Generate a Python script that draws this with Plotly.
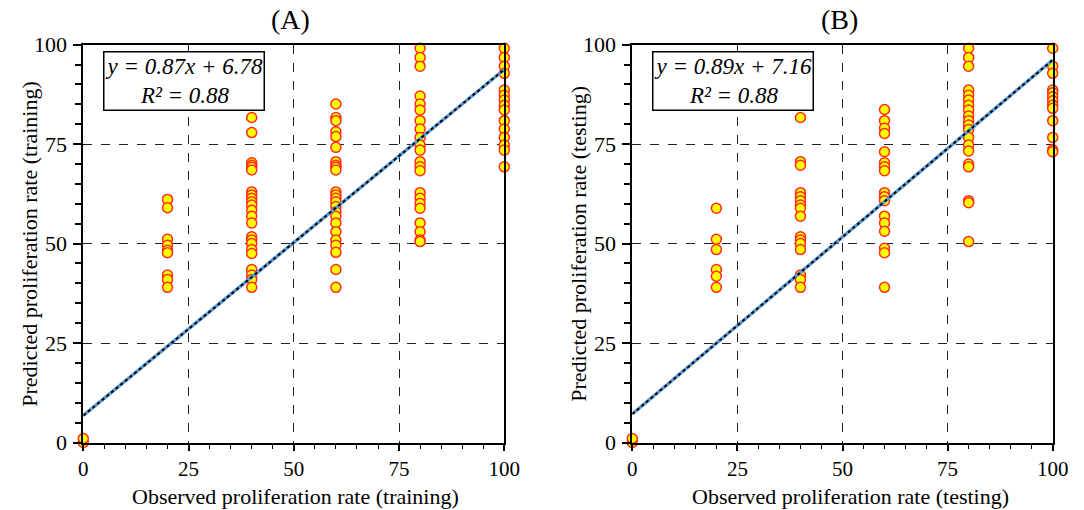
import plotly.graph_objects as go

# ---------------- data ----------------
obs_levels = [0, 20, 40, 60, 80, 100]

pred_A_0 = [0, 1]
pred_A_20 = [61.1, 59.0, 51.1, 49.6, 48.3, 47.7, 42.1, 41.0, 39.0]
pred_A_40 = [81.7, 77.9, 70.3, 69.7, 69.2, 68.5, 63.0, 62.2, 61.4, 60.5, 59.7, 58.4,
             56.9, 55.2, 51.7, 50.9, 50.0, 48.5, 47.5, 43.5, 42.1, 41.0, 39.0]
pred_A_60 = [85.1, 81.7, 80.9, 78.1, 76.9, 74.2, 70.6, 69.7, 69.2, 68.5, 63.0, 62.2,
             61.4, 60.5, 59.3, 58.0, 56.9, 55.2, 53.0, 50.9, 49.6, 47.8, 43.5, 39.0]
pred_A_80 = [99.1, 96.8, 94.6, 87.1, 85.1, 83.6, 80.9, 78.8, 76.7, 74.8, 73.5, 70.6,
             69.3, 68.3, 62.8, 61.4, 60.1, 58.9, 55.2, 53.0, 50.9, 50.5]
pred_A_100 = [99.1, 96.8, 94.6, 92.8, 88.6, 87.3, 86.1, 84.8, 83.6, 80.9, 78.8, 76.7,
              74.8, 73.5, 69.3]

pred_B_0 = [0, 1]
pred_B_20 = [58.9, 51.1, 48.5, 43.5, 41.8, 39.0]
pred_B_40 = [81.7, 70.6, 69.7, 62.8, 61.8, 60.8, 59.7, 58.9, 56.9, 51.7, 50.9, 50.0,
             48.5, 42.1, 41.0, 39.0]
pred_B_60 = [83.7, 80.9, 79.0, 77.7, 73.1, 70.3, 69.3, 68.3, 62.8, 61.8, 60.8, 56.9,
             55.2, 53.1, 48.8, 47.7, 39.0]
pred_B_80 = [99.1, 96.8, 94.6, 88.6, 87.3, 86.1, 84.8, 83.6, 82.1, 80.9, 79.8, 78.7,
             76.7, 74.8, 73.3, 70.0, 69.3, 60.8, 60.3, 50.5]
pred_B_100 = [99.1, 94.6, 92.8, 88.6, 87.9, 86.9, 85.9, 84.8, 84.0, 80.9, 76.7, 73.6, 73.1]

slope_A, intercept_A, r2_A = 0.87, 6.78, 0.88
slope_B, intercept_B, r2_B = 0.89, 7.16, 0.88

tick_vals = [0, 25, 50, 75, 100]
panel_titles = ["(A)", "(B)"]
x_titles = ["Observed proliferation rate (training)", "Observed proliferation rate (testing)"]
y_titles = ["Predicted proliferation rate (training)", "Predicted proliferation rate (testing)"]

groups_A = [pred_A_0, pred_A_20, pred_A_40, pred_A_60, pred_A_80, pred_A_100]
groups_B = [pred_B_0, pred_B_20, pred_B_40, pred_B_60, pred_B_80, pred_B_100]


def flatten(groups):
    xs, ys = [], []
    for lvl, vals in zip(obs_levels, groups):
        xs += [lvl] * len(vals)
        ys += vals
    return xs, ys


FONT = "Liberation Serif, Times New Roman, serif"
fig = go.Figure()

panels = [
    (groups_A, slope_A, intercept_A, r2_A, "x", "y"),
    (groups_B, slope_B, intercept_B, r2_B, "x2", "y2"),
]
for groups, m, b, r2, xa, ya in panels:
    xs, ys = flatten(groups)
    fig.add_trace(go.Scatter(
        x=xs, y=ys, mode="markers", xaxis=xa, yaxis=ya, cliponaxis=False,
        marker=dict(size=10, color="#FFFF00", line=dict(color="#FF2A1A", width=1.5)),
        showlegend=False))
    lx = [0, 100]
    ly = [m * v + b for v in lx]
    fig.add_trace(go.Scatter(x=lx, y=ly, mode="lines", xaxis=xa, yaxis=ya,
                             line=dict(color="#5B9BD5", width=3.4), showlegend=False))
    fig.add_trace(go.Scatter(x=lx, y=ly, mode="lines", xaxis=xa, yaxis=ya,
                             line=dict(color="#000000", width=2, dash="dot"), showlegend=False))
    fig.add_annotation(
        x=4.6, y=98.3, xref=xa, yref=ya, xanchor="left", yanchor="top", align="center",
        text=f"<i>y = {m:.2f}x + {b:.2f}</i><br><i>R² = {r2:.2f}</i>",
        showarrow=False, bgcolor="white", bordercolor="black", borderwidth=1.5, borderpad=1,
        font=dict(family=FONT, size=23, color="black"))

W, H = 1084, 510
AX_A, AX_B = 83.3, 632.3
xdomA = [AX_A / W, 504.3 / W]
xdomB = [AX_B / W, 1052.7 / W]
ydom = [(H - 442.5) / H, (H - 44.7) / H]

common_x = dict(range=[0, 100], tickvals=tick_vals, showline=True, linecolor="black", linewidth=2,
                mirror=True, ticks="outside", ticklen=6, tickwidth=1.5, tickcolor="black",
                showgrid=True, gridcolor="#222", griddash="dash", gridwidth=1, zeroline=False,
                tickfont=dict(family=FONT, size=21, color="black"), ticklabelstandoff=0,
                minor=dict(dtick=5, ticks="outside", ticklen=4, tickwidth=1, tickcolor="black", showgrid=False),
                fixedrange=True, automargin=False)
common_y = dict(range=[0, 100], tickvals=tick_vals, showline=True, linecolor="black", linewidth=2,
                mirror=True, ticks="outside", ticklen=8, tickwidth=1.5, tickcolor="black",
                showgrid=True, gridcolor="#222", griddash="dash", gridwidth=1, zeroline=False,
                tickfont=dict(family=FONT, size=22, color="black"), ticklabelstandoff=2,
                minor=dict(dtick=5, ticks="outside", ticklen=6, tickwidth=1.5, tickcolor="black", showgrid=False),
                fixedrange=True, automargin=False)

fig.update_layout(
    width=W, height=H, margin=dict(l=0, r=0, t=0, b=0, autoexpand=False),
    paper_bgcolor="white", plot_bgcolor="white",
    font=dict(family=FONT, color="black"),
    xaxis=dict(domain=xdomA, anchor="y", **common_x),
    yaxis=dict(domain=ydom, anchor="x", **common_y),
    xaxis2=dict(domain=xdomB, anchor="y2", **common_x),
    yaxis2=dict(domain=ydom, anchor="x2", **common_y),
)

title_font = dict(family=FONT, size=22, color="black")
x_title_centers = [295, 850]
for i in range(2):
    dom = [xdomA, xdomB][i]
    ax_px = [AX_A, AX_B][i]
    # panel title
    fig.add_annotation(x=(dom[0] + dom[1]) / 2 - 3 / W, y=(H - 20) / H, xref="paper", yref="paper",
                       text=panel_titles[i], showarrow=False, xanchor="center", yanchor="middle",
                       font=dict(family=FONT, size=28, color="black"))
    # x axis title
    fig.add_annotation(x=x_title_centers[i] / W, y=(H - 496) / H, xref="paper", yref="paper",
                       text=x_titles[i], showarrow=False, xanchor="center", yanchor="middle",
                       font=title_font)
    # y axis title
    fig.add_annotation(x=(ax_px - 54) / W, y=(H - 243.5) / H, xref="paper", yref="paper",
                       text=y_titles[i], showarrow=False, xanchor="center", yanchor="middle",
                       textangle=-90, font=title_font)

fig.write_html("out.html")
